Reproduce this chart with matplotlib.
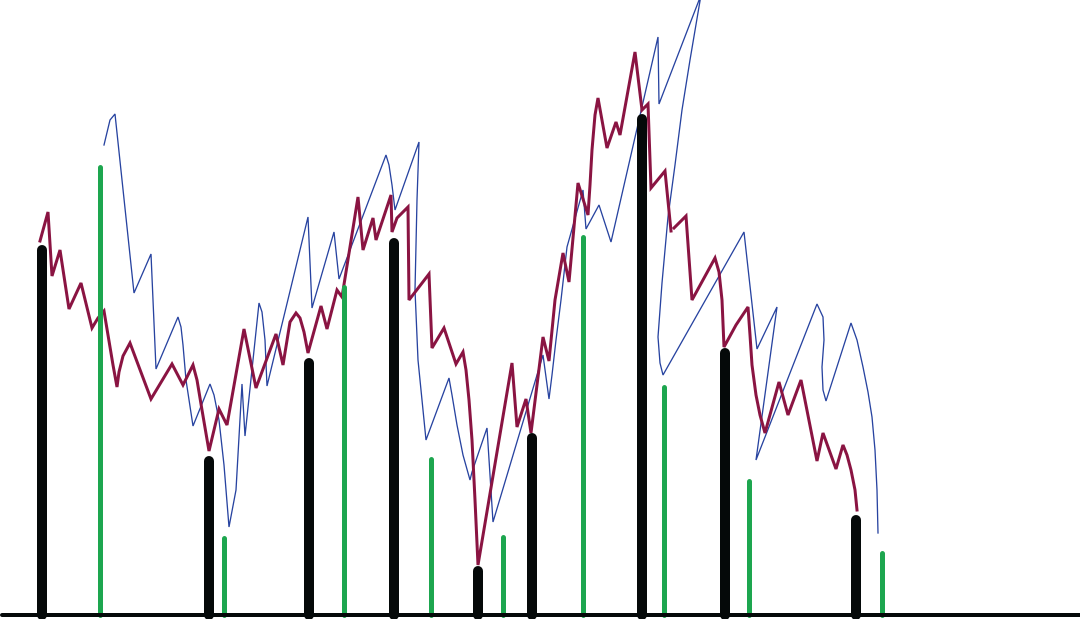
import matplotlib
matplotlib.use("Agg")
import matplotlib.pyplot as plt

# values, in picture units (y grows downward)
BASE = 615

black_x = [42, 209, 309, 394, 478, 532, 642, 725, 856]
black_top = [245, 456, 358, 238, 566, 433, 114, 348, 515]

green_x = [100, 224, 344, 431, 503, 583, 664, 749, 882]
green_top = [164, 535, 284, 456, 534, 234, 384, 478, 550]

# maroon line, two pieces
red_a_x = [40, 48, 52, 60, 69, 81, 92, 98, 104, 108, 113, 117, 119, 123, 130, 151, 172, 183,
           193, 197, 202, 209, 219, 227, 244, 256, 276, 283, 290, 296, 300, 304, 308, 321,
           327, 337, 342, 358, 363, 373, 376, 391, 392, 397, 408, 409, 429, 432, 444, 456,
           463, 466, 469, 472, 475, 478, 512, 517, 526, 531, 543, 549, 555, 563, 569, 578,
           588, 590, 592, 595, 598, 607, 616, 620, 635, 642, 648, 651, 665, 671]
red_a_y = [241, 212, 276, 250, 309, 283, 328, 318, 311, 335, 365, 387, 372, 356, 343, 399, 364,
           385, 365, 380, 410, 451, 409, 425, 329, 388, 334, 365, 322, 313, 318, 332, 353, 306,
           329, 290, 297, 197, 250, 218, 240, 195, 232, 218, 207, 300, 274, 348, 328, 364,
           352, 370, 400, 440, 500, 565, 363, 427, 399, 433, 337, 361, 300, 253, 282, 183,
           215, 185, 150, 115, 98, 148, 122, 135, 52, 110, 104, 188, 171, 231]

red_b_x = [674, 686, 692, 715, 719, 722, 724, 736, 748, 750, 752, 756, 760, 765, 779, 788,
           801, 817, 823, 836, 843, 847, 851, 855, 857]
red_b_y = [228, 216, 300, 258, 272, 300, 347, 325, 307, 335, 365, 395, 415, 433, 382, 415,
           380, 461, 433, 469, 445, 455, 470, 490, 510]

# blue line
blue_x = [104, 110, 115, 134, 151, 156, 178, 181, 183, 186, 193, 210, 214, 219, 224, 229,
          236, 242, 245, 259, 262, 265, 267, 308, 312, 334, 339, 386, 389, 392, 395, 419,
          417, 415, 418, 426, 449, 452, 457, 463, 470, 472, 487, 493, 543, 549, 552, 556,
          561, 567, 583, 586, 599, 611, 658, 659, 701, 690, 682, 675, 668, 662, 658, 660,
          663, 744, 757, 777, 756, 817, 823, 824, 822, 823, 826, 851, 857, 863, 868, 872,
          875, 877, 878]
blue_y = [145, 120, 114, 293, 254, 369, 317, 327, 345, 380, 426, 384, 395, 420, 465, 527,
          490, 384, 436, 303, 312, 340, 386, 217, 308, 232, 279, 155, 165, 185, 210, 142,
          200, 290, 360, 440, 378, 395, 425, 455, 480, 472, 428, 522, 355, 399, 375, 340,
          300, 247, 190, 229, 205, 242, 37, 104, -5, 60, 110, 165, 217, 283, 337, 363,
          375, 232, 349, 307, 460, 304, 317, 340, 367, 390, 401, 323, 340, 367, 392, 417,
          450, 490, 533]

BLACK = "#050909"
GREEN = "#1da64f"
MAROON = "#8a1442"
BLUE = "#2743a0"

fig = plt.figure(figsize=(10.8, 6.19), dpi=100)
ax = fig.add_axes([0, 0, 1, 1])
ax.set_xlim(0, 1080)
ax.set_ylim(619, 0)
ax.axis("off")

px = 72 / 100  # points per pixel

ax.plot(blue_x, blue_y, color=BLUE, lw=1.3 * px, solid_joinstyle="miter", zorder=2)
ax.plot(red_a_x, red_a_y, color=MAROON, lw=3 * px, solid_joinstyle="miter", zorder=3)
ax.plot(red_b_x, red_b_y, color=MAROON, lw=3 * px, solid_joinstyle="miter", zorder=3)

for x, top in zip(green_x, green_top):
    ax.plot([x, x], [BASE, top + 2.5], color=GREEN, lw=5 * px,
            solid_capstyle="round", zorder=4)

for x, top in zip(black_x, black_top):
    ax.plot([x, x], [BASE, top + 5], color=BLACK, lw=10 * px,
            solid_capstyle="round", zorder=5)

ax.plot([2, 1080], [BASE, BASE], color=BLACK, lw=4 * px, solid_capstyle="round", zorder=6)

fig.savefig("out.png", dpi=100)
